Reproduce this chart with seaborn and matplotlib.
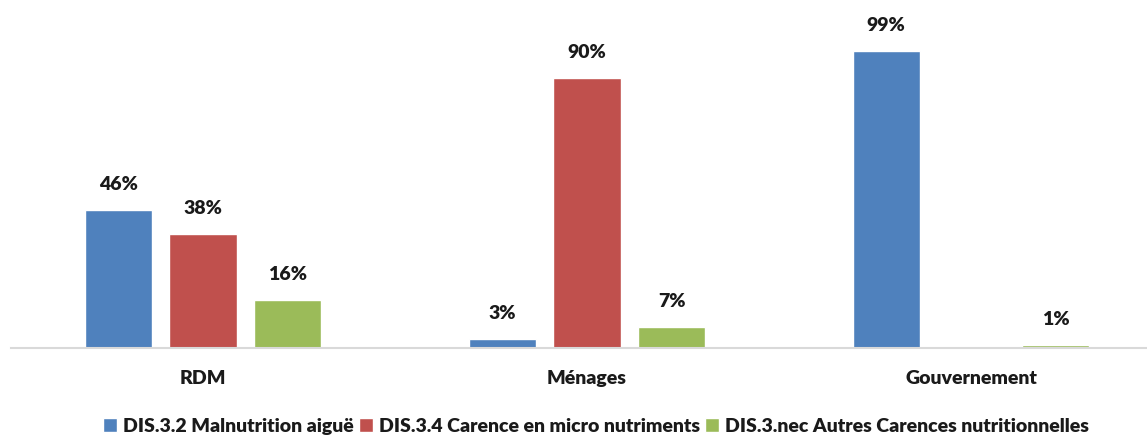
import pandas as pd
import matplotlib.pyplot as plt
import seaborn as sns

# Données
categories = ["RDM", "Ménages", "Gouvernement"]
series = ["DIS.3.2 Malnutrition aiguë",
          "DIS.3.4 Carence en micro nutriments",
          "DIS.3.nec Autres Carences nutritionnelles"]
malnutrition = [46, 3, 99]
micro = [38, 90, 0]
autres = [16, 7, 1]
couleurs = ["#4F81BD", "#C0504D", "#9BBB59"]

df = pd.DataFrame({
    "cat": categories * 3,
    "serie": [series[0]] * 3 + [series[1]] * 3 + [series[2]] * 3,
    "val": malnutrition + micro + autres,
})

sns.set_style("white")
plt.rcParams['font.family'] = ['Lato', 'DejaVu Sans']

fig = plt.figure(figsize=(11.47, 4.36), dpi=100)
ax = fig.add_axes([11 / 1147, 88 / 436, 1152 / 1147, 330 / 436])

sns.barplot(data=df, x="cat", y="val", hue="serie", palette=couleurs,
            width=0.663, gap=0.21, saturation=1, ax=ax, legend=True)

for cont in ax.containers:
    labels = [f"{v:.0f}%" if v > 0 else "" for v in cont.datavalues]
    ax.bar_label(cont, labels=labels, padding=12, fontsize=14,
                 fontweight='heavy', color='#1a1a1a')

ax.set_xlim(-0.5, 2.5)
ax.set_ylim(0, 110)
ax.set_xlabel("")
ax.set_ylabel("")
ax.set_yticks([])
ax.set_xticks(range(len(categories)))
ax.set_xticklabels(categories, fontsize=14, fontweight='heavy', color='#1a1a1a')
ax.tick_params(axis='x', length=0, pad=16)
for s in ["top", "right", "left"]:
    ax.spines[s].set_visible(False)
ax.spines["bottom"].set_color("#D9D9D9")
ax.spines["bottom"].set_linewidth(1.5)

handles, labs = ax.get_legend_handles_labels()
leg = ax.legend(handles, labs, loc='center', bbox_to_anchor=(596 / 1147, 10 / 436),
                bbox_transform=fig.transFigure, ncol=3, frameon=False,
                handlelength=0.7, handleheight=0.7, handletextpad=0.3,
                columnspacing=0.3, prop={'weight': 'heavy', 'size': 14},
                borderpad=0.1)
for t in leg.get_texts():
    t.set_color('#1a1a1a')

fig.savefig("out.png", dpi=100)
